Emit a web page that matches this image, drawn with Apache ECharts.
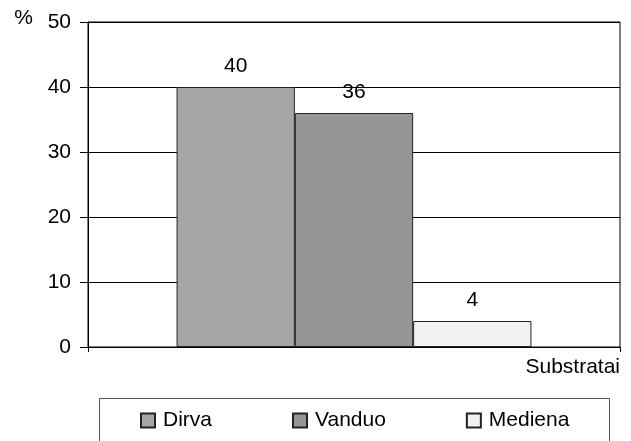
<!DOCTYPE html>
<html>
<head>
<meta charset="utf-8">
<script src="https://cdn.jsdelivr.net/npm/echarts@6/dist/echarts.min.js"></script>
<style>html,body{margin:0;padding:0;background:#fff}#c{width:631px;height:441px}</style>
</head>
<body>
<div id="c"></div>
<script>
const categories = [''];
const seriesNames = ['Dirva', 'Vanduo', 'Mediena'];
const dirva = [40];
const vanduo = [36];
const mediena = [4];
const yTicks = [0, 10, 20, 30, 40, 50];
const xAxisTitle = 'Substratai';
const yAxisTitle = '%';

const FONT = '"Liberation Sans", Arial, sans-serif';
const FS = 21;
const colors = ['#a6a6a6', '#969696', '#f2f2f2'];
const values = [dirva, vanduo, mediena];

const chart = echarts.init(document.getElementById('c'), null, {renderer: 'canvas'});
chart.setOption({
  animation: false,
  backgroundColor: '#fff',
  textStyle: {fontFamily: FONT},
  grid: {left: 88, right: 11, top: 22, bottom: 94, show: true, borderColor: '#000', borderWidth: 1, backgroundColor: 'transparent'},
  graphic: [{
    type: 'rect', left: 97, top: 396, shape: {width: 510, height: 60},
    style: {fill: 'none', stroke: '#555', lineWidth: 1}, silent: true
  }],
  legend: {
    left: 135, top: 405, itemGap: 80, itemWidth: 14, itemHeight: 14,
    icon: 'rect',
    textStyle: {fontFamily: FONT, fontSize: FS, color: '#000', padding: [0, 0, 0, 3]},
    data: seriesNames
  },
  xAxis: {
    type: 'category', data: categories,
    name: xAxisTitle, nameLocation: 'end', nameGap: 0,
    nameTextStyle: {fontFamily: FONT, fontSize: FS, color: '#000', align: 'right', verticalAlign: 'top', padding: [10, 0, 0, 0]},
    axisLine: {lineStyle: {color: '#000', width: 1}},
    axisTick: {show: true, length: 5, lineStyle: {color: '#000'}},
    axisLabel: {show: false}
  },
  yAxis: {
    type: 'value', min: 0, max: 50, interval: 10,
    name: yAxisTitle, nameLocation: 'end', nameGap: 4,
    nameTextStyle: {fontFamily: FONT, fontSize: FS, color: '#000', align: 'right', verticalAlign: 'middle', padding: [0, 55, 0, 0]},
    axisLine: {show: true, lineStyle: {color: '#000', width: 1}},
    axisTick: {show: true, length: 8, lineStyle: {color: '#000'}},
    axisLabel: {fontFamily: FONT, fontSize: FS, color: '#000', margin: 17,
      formatter: v => yTicks.includes(v) ? String(v) : ''},
    splitLine: {show: true, lineStyle: {color: '#000', width: 1}}
  },
  series: seriesNames.map((n, i) => ({
    name: n, type: 'bar', data: values[i],
    barGap: '0%', barCategoryGap: '33.3%',
    itemStyle: {color: colors[i], borderColor: '#222', borderWidth: 1},
    label: {show: true, position: 'top', distance: 10, fontFamily: FONT, fontSize: FS, color: '#000'}
  }))
});
</script>
</body>
</html>
